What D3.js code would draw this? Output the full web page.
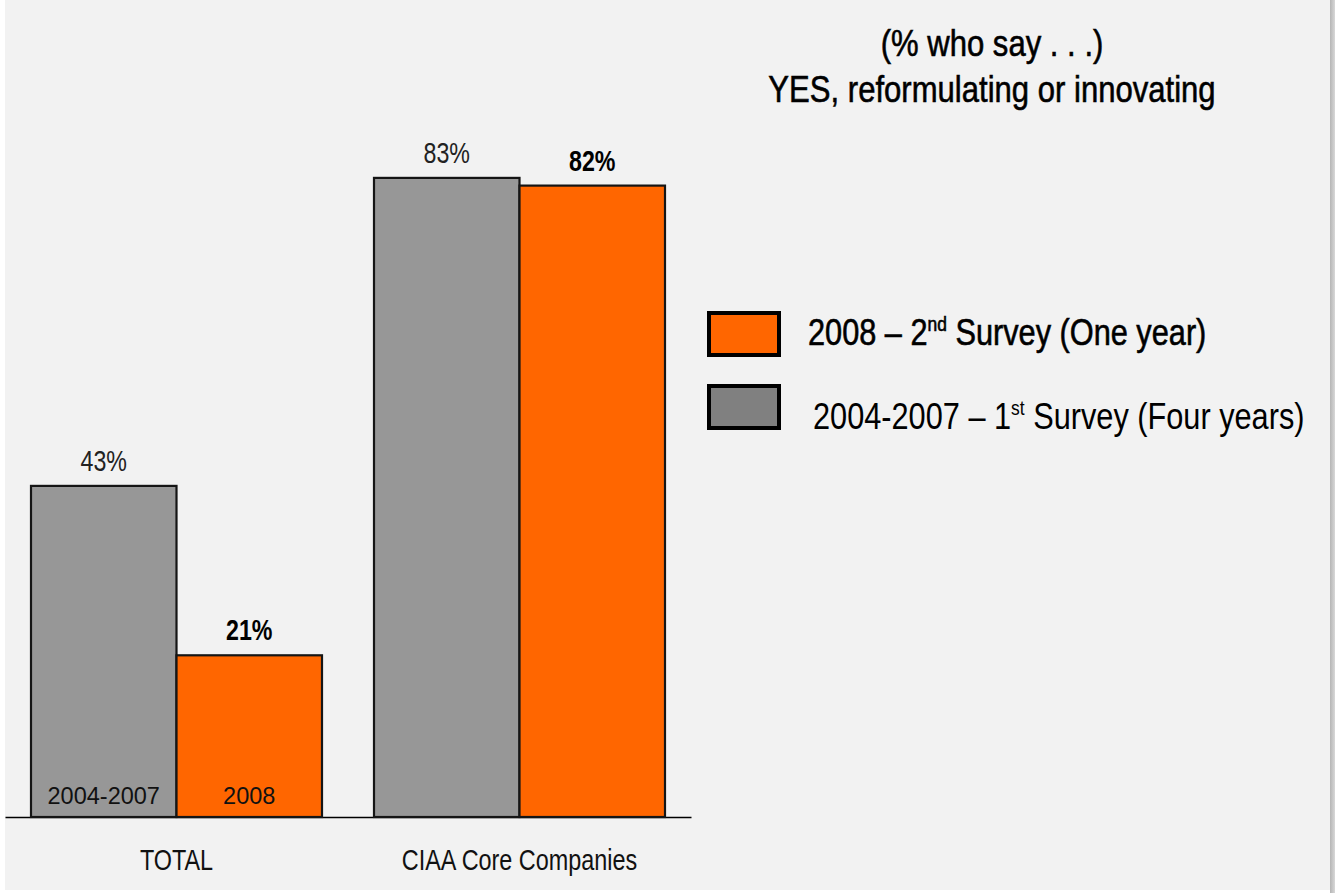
<!DOCTYPE html>
<html>
<head>
<meta charset="utf-8">
<script src="https://cdn.jsdelivr.net/npm/d3@7/dist/d3.min.js"></script>
<style>
  html, body { margin: 0; padding: 0; background: #ffffff; }
  svg { display: block; }
</style>
</head>
<body>
<svg id="chart" width="1335" height="893"></svg>
<script>
// Survey results: share of companies reformulating or innovating
const categories = ["TOTAL", "CIAA Core Companies"];
const seriesKeys = ["2004-2007", "2008"];
const values20042007 = [43, 83];
const values2008 = [21, 82];
const titleLines = ["(% who say . . .)", "YES, reformulating or innovating"];
const legendItems = [
  { key: "2008", parts: ["2008 \u2013 2", "nd", " Survey (One year)"] },
  { key: "2004-2007", parts: ["2004-2007 \u2013 1", "st", " Survey (Four years)"] }
];

const W = 1335, H = 893;
const svg = d3.select("#chart");
const FONT = "'Liberation Sans', Arial, sans-serif";
const barColor = { "2004-2007": "#979797", "2008": "#ff6600" };
const swatchColor = { "2004-2007": "#808080", "2008": "#ff6600" };

// slide panel
svg.append("rect").attr("x", 5).attr("y", 0).attr("width", 1325).attr("height", 890).attr("fill", "#f2f2f2");
const grad = svg.append("defs").append("linearGradient").attr("id", "shadow").attr("x1", 0).attr("x2", 1);
grad.append("stop").attr("offset", 0).attr("stop-color", "#b5b5b5");
grad.append("stop").attr("offset", 1).attr("stop-color", "#d8d8d8");
svg.append("rect").attr("x", 1330).attr("y", 0).attr("width", 5).attr("height", 893).attr("fill", "url(#shadow)");

const rows = categories.map((c, i) => ({
  category: c,
  "2004-2007": values20042007[i],
  "2008": values2008[i]
}));

const x = d3.scaleBand().domain(categories).range([5, 691]).paddingInner(0.1516).paddingOuter(0.0758);
const xs = d3.scaleBand().domain(seriesKeys).range([0, x.bandwidth()]);
const y = d3.scaleLinear().domain([0, 100]).range([817, 47]);

// baseline and category labels
const axis = svg.append("g")
  .attr("transform", `translate(0,${y(0)})`)
  .call(d3.axisBottom(x).tickSize(0).tickSizeOuter(0));
axis.select(".domain").attr("stroke", "#000").attr("stroke-width", 1.3);
axis.selectAll(".tick text")
  .attr("y", 0).attr("dy", 0)
  .attr("transform", "translate(0,53) scale(0.78,1)")
  .attr("font-family", FONT).attr("font-size", 30).attr("fill", "#111");

// bars
const groups = svg.append("g").selectAll("g").data(rows).join("g")
  .attr("transform", d => `translate(${x(d.category)},0)`);

groups.selectAll("rect").data(d => seriesKeys.map(k => ({ key: k, value: d[k], category: d.category })))
  .join("rect")
  .attr("x", d => xs(d.key))
  .attr("y", d => y(d.value))
  .attr("width", xs.bandwidth())
  .attr("height", d => y(0) - y(d.value))
  .attr("fill", d => barColor[d.key])
  .attr("stroke", "#151515").attr("stroke-width", 2.2);

// value labels above bars (2008 in bold)
groups.selectAll("text.value").data(d => seriesKeys.map(k => ({ key: k, value: d[k] })))
  .join("text")
  .attr("class", "value")
  .attr("transform", d => `translate(${xs(d.key) + xs.bandwidth() / 2},${y(d.value) - 15}) scale(0.8,1)`)
  .attr("text-anchor", "middle")
  .attr("font-family", FONT).attr("font-size", 29)
  .attr("font-weight", d => d.key === "2008" ? "bold" : "normal")
  .attr("fill", d => d.key === "2008" ? "#000" : "#222")
  .text(d => d.value + "%");

// series names inside the first group's bars
groups.filter((d, i) => i === 0).selectAll("text.series").data(seriesKeys)
  .join("text")
  .attr("class", "series")
  .attr("x", k => xs(k) + xs.bandwidth() / 2)
  .attr("y", y(0) - 13)
  .attr("text-anchor", "middle")
  .attr("font-family", FONT).attr("font-size", 23.5)
  .attr("fill", "#111")
  .text(k => k);

// title
const title = svg.append("g");
title.selectAll("text").data(titleLines).join("text")
  .attr("transform", (d, i) => `translate(992,${i === 0 ? 56 : 102}) scale(0.84,1)`)
  .attr("text-anchor", "middle")
  .attr("font-family", FONT).attr("font-size", 37).attr("fill", "#000")
  .attr("stroke", "#000").attr("stroke-width", 0.6)
  .text(d => d);

// legend
const legendY = [334, 407];
const legendTextY = [345, 429];
const legendTextX = [808, 813];
const legend = svg.append("g");
legendItems.forEach((item, i) => {
  legend.append("rect")
    .attr("x", 709).attr("y", legendY[i] - 21)
    .attr("width", 70).attr("height", 42)
    .attr("fill", swatchColor[item.key])
    .attr("stroke", "#000").attr("stroke-width", 4);
  const t = legend.append("text")
    .attr("transform", `translate(${legendTextX[i]},${legendTextY[i]}) scale(0.83,1)`)
    .attr("font-family", FONT).attr("font-size", 37).attr("fill", "#000")
    .attr("stroke", i === 0 ? "#000" : "none").attr("stroke-width", 0.6);
  t.append("tspan").text(item.parts[0]);
  t.append("tspan").attr("font-size", 21).attr("dy", -14).text(item.parts[1]);
  t.append("tspan").attr("dy", 14).text(item.parts[2]);
});
</script>
</body>
</html>
